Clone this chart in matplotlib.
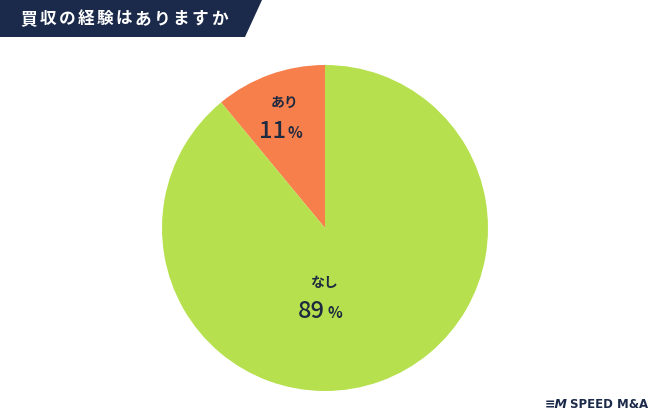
import matplotlib.pyplot as plt
from matplotlib.patches import Polygon

plt.rcParams['font.family'] = ['Noto Sans CJK JP', 'DejaVu Sans']

# データ
titulo = '買収の経験はありますか'
categorias = ['あり', 'なし']
valores = [11, 89]
cores = ['#F77F4B', '#B6E04E']
cor_texto = '#1E2A40'

fig = plt.figure(figsize=(6.5, 4.2), dpi=100)
fig.patch.set_facecolor('white')

# faixa do título
fig.patches.append(Polygon([[0, 1], [262 / 650, 1], [245 / 650, 1 - 37 / 420], [0, 1 - 37 / 420]],
                           closed=True, transform=fig.transFigure, facecolor='#1B2A4A',
                           edgecolor='none'))
# letras espaçadas como no original
for i, ch in enumerate(titulo):
    fig.text((29 + i * 19) / 650, 1 - 19 / 420, ch, color='white', fontsize=12,
             fontweight='bold', va='center', ha='center')

# pizza
cx, cy, r = 325, 420 - 228, 163
ax = fig.add_axes([(cx - r) / 650, (cy - r) / 420, 2 * r / 650, 2 * r / 420])
ax.pie(valores, colors=cores, startangle=90, counterclock=True,
       wedgeprops=dict(linewidth=0))
ax.set_xlim(-1, 1)
ax.set_ylim(-1, 1)
ax.set_aspect('equal')
ax.axis('off')

# rótulos
pos = [((285 - cx) / r, (228 - 103) / r), ((324 - cx) / r, (228 - 283) / r)]
for (x, y), cat, v in zip(pos, categorias, valores):
    ax.text(x, y, cat, ha='center', va='center', fontsize=10, fontweight='bold', color=cor_texto)
    ax.text(x + 1 / r, y - 28 / r, f'{v}', ha='right', va='center', fontsize=17,
            fontweight='medium', color=cor_texto)
    ax.text(x + 3 / r, y - 30 / r, '%', ha='left', va='center', fontsize=11,
            fontweight='bold', color=cor_texto)

# logo
fig.text(545 / 650, 1 - 404 / 420, '≡M', fontsize=9, fontweight='bold', style='italic',
         color='#1B2A4A', ha='left', va='center', family='DejaVu Sans')
fig.text(570 / 650, 1 - 404 / 420, 'SPEED M&A', fontsize=8.5, fontweight='bold',
         color='#1B2A4A', ha='left', va='center', family='DejaVu Sans')

plt.savefig('out.png', dpi=100)
